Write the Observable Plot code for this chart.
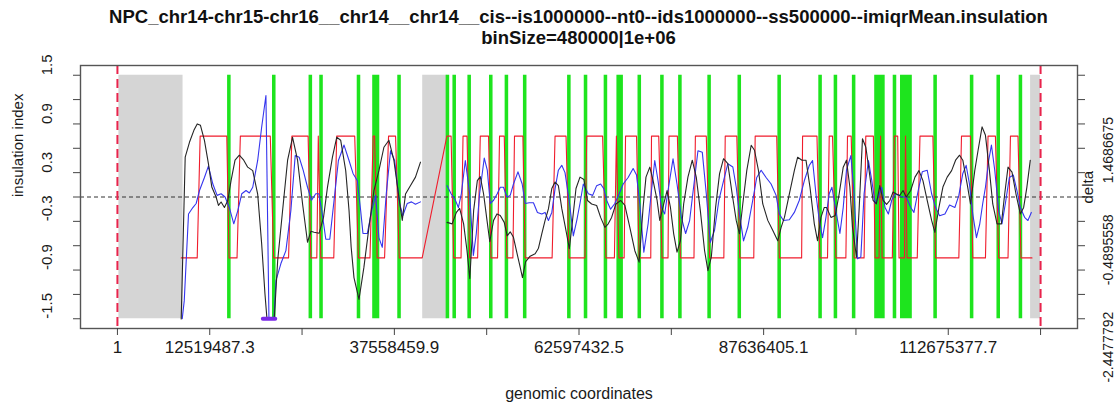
<!DOCTYPE html>
<html><head><meta charset="utf-8">
<script src="https://cdn.jsdelivr.net/npm/d3@7"></script>
<script src="https://cdn.jsdelivr.net/npm/@observablehq/plot@0.6"></script>
<style>
body{margin:0;background:#fff;width:1118px;height:407px;overflow:hidden;font-family:"Liberation Sans",Arial,Helvetica,sans-serif;}
#title{height:50px;box-sizing:border-box;padding-top:6px;padding-left:39px;width:1118px;text-align:center;font-weight:bold;font-size:18.5px;line-height:21px;color:#111;}
</style></head>
<body>
<div id="title"><div id="t1"></div><div id="t2"></div></div>
<div id="chart"></div>
<script>
// ---------- data ----------
const titleLine1 = "NPC_chr14-chr15-chr16__chr14__chr14__cis--is1000000--nt0--ids1000000--ss500000--imiqrMean.insulation";
const titleLine2 = "binSize=480000|1e+06";
const xTitle = "genomic coordinates";
const yTitleLeft = "insulation index";
const yTitleRight = "delta";

const chromStart = 1;
const chromEnd = 125194864;

const xTicks = [1, 12519487.3, 25038973.6, 37558459.9, 50077946.2, 62597432.5, 75116918.8, 87636405.1, 100155891.4, 112675377.7, 125194864];
const xTickLabels = ["1", "12519487.3", "", "37558459.9", "", "62597432.5", "", "87636405.1", "", "112675377.7", ""];

const yTicks = [-1.5, -1.2, -0.9, -0.6, -0.3, 0, 0.3, 0.6, 0.9, 1.2, 1.5];
const yTickLabels = ["-1.5", "", "-0.9", "", "-0.3", "", "0.3", "", "0.9", "", "1.5"];

const deltaMax = 2.4477792;
const deltaTicks = [-2.4477792, -1.9582234, -1.4686675, -0.9791117, -0.4895558, 0, 0.4895558, 0.9791117, 1.4686675, 1.9582234, 2.4477792];
const deltaTickLabels = ["-2.4477792", "", "", "", "-0.4895558", "", "", "", "1.4686675", "", ""];

// NA (unmappable) regions, Mb
const naStart = [0.2, 41.40, 123.84];
const naEnd   = [8.90, 44.75, 125.19];

// boundary bins (green), Mb
const boundaryStart = [14.94, 21.03, 25.99, 27.44, 32.52, 34.62, 38.02, 44.58, 45.50, 47.53, 50.46, 52.58, 55.06, 61.05, 63.31, 66.01, 67.74, 70.60, 73.67, 76.11, 80.07, 84.16, 89.57, 95.12, 97.20, 99.67, 102.70, 105.21, 106.20, 110.72, 115.67, 119.28, 122.29];
const boundaryEnd   = [15.42, 21.51, 26.47, 27.92, 33.00, 35.58, 38.50, 45.06, 45.98, 48.01, 50.94, 53.06, 55.54, 61.53, 63.79, 66.49, 68.62, 71.08, 74.15, 76.59, 80.55, 84.64, 90.05, 95.60, 97.68, 100.15, 104.12, 105.69, 107.80, 111.20, 116.15, 119.76, 122.77];

// insulation index (left axis) [Mb, value]; null = missing
const insulation = [[8.79,-1.50],[9.06,-1.28],[9.64,-0.21],[10.23,-0.13],[10.68,-0.08],[11.13,0.08],[11.80,0.24],[12.34,0.38],[12.94,0.16],[13.52,0.02],[14.06,0.04],[14.60,0.00],[15.18,-0.13],[15.78,-0.33],[16.32,-0.17],[16.86,0.04],[17.44,0.08],[17.89,0.05],[18.35,0.12],[19.02,0.45],[19.56,0.86],[20.14,1.25],[20.55,-1.50],[21.23,-1.50],[21.50,-1.03],[22.17,-0.82],[22.85,-0.66],[23.52,-0.17],[24.11,0.51],[24.65,0.49],[25.19,0.33],[25.78,0.12],[26.32,-0.04],[26.90,0.04],[27.31,0.04],[27.72,-0.17],[28.26,-0.52],[28.80,-0.52],[29.38,-0.04],[29.97,0.45],[30.73,0.64],[31.41,0.45],[31.95,0.29],[32.54,0.20],[32.99,-0.17],[33.30,-0.45],[33.89,-0.45],[34.48,-0.17],[35.02,0.02],[35.46,-0.50],[35.92,-0.62],[36.46,0.04],[37.04,0.57],[37.59,0.45],[38.26,-0.08],[38.71,-0.23],[39.30,-0.08],[39.88,-0.06],[40.42,-0.09],[41.10,-0.06],[43.00,null],
[44.71,0.14],[45.25,0.04],[45.83,-0.04],[46.24,-0.13],[46.64,0.04],[47.18,0.45],[47.77,0.04],[48.27,-0.72],[48.67,-0.45],[49.12,0.04],[49.75,0.48],[50.16,0.33],[50.56,-0.08],[51.01,-0.04],[51.51,0.04],[51.92,0.12],[52.36,0.12],[52.82,0.00],[53.27,0.02],[53.71,0.16],[54.32,0.31],[54.89,0.16],[55.30,-0.08],[55.84,-0.07],[56.42,-0.07],[56.96,-0.19],[57.55,-0.21],[58.00,-0.19],[58.45,-0.29],[58.91,-0.19],[59.35,0.10],[59.80,0.33],[60.26,0.39],[60.70,0.30],[61.29,-0.06],[61.83,-0.48],[62.29,-0.29],[62.73,-0.08],[63.18,0.16],[63.86,0.04],[64.45,0.02],[64.99,0.14],[65.53,0.16],[65.98,0.10],[66.34,-0.04],[66.88,-0.15],[67.46,-0.08],[68.05,0.04],[68.59,0.16],[69.26,0.24],[69.94,0.35],[70.40,0.27],[70.84,-0.08],[71.39,-0.68],[71.97,-0.33],[72.43,0.08],[72.87,0.45],[73.32,0.20],[73.78,-0.13],[74.22,-0.21],[74.67,0.08],[75.35,0.47],[75.89,0.16],[76.48,-0.25],[77.06,-0.45],[77.60,-0.29],[78.19,0.16],[78.73,0.57],[79.32,0.55],[79.86,0.04],[80.40,-0.56],[80.98,-0.41],[81.57,-0.04],[82.20,0.20],[82.78,0.41],[83.46,0.37],[83.92,0.12],[84.36,-0.21],[84.91,-0.54],[85.49,-0.37],[86.16,-0.04],[86.70,0.24],[87.30,0.33],[87.97,0.24],[88.65,0.16],[89.33,0.02],[89.77,-0.21],[90.32,-0.29],[91.12,-0.28],[91.80,-0.19],[92.48,-0.04],[93.15,0.20],[93.83,0.39],[94.27,0.45],[94.73,0.04],[95.18,-0.29],[95.63,-0.50],[96.09,-0.25],[96.53,0.04],[96.90,0.12],[97.44,-0.17],[97.98,-0.45],[98.43,-0.13],[98.87,0.33],[99.47,0.51],[99.91,0.04],[100.36,-0.76],[100.82,-0.74],[101.26,0.04],[101.85,0.45],[102.31,0.20],[102.75,-0.08],[103.20,0.00],[103.66,0.12],[104.10,-0.13],[104.55,-0.21],[105.01,-0.04],[105.46,0.04],[106.00,0.02],[106.44,0.00],[106.98,0.00],[107.58,-0.13],[108.02,-0.19],[108.60,0.08],[109.15,0.31],[109.82,0.33],[110.42,0.04],[110.96,-0.13],[111.50,-0.23],[112.22,-0.21],[112.85,-0.10],[113.57,-0.13],[114.11,0.02],[114.65,0.29],[115.10,0.39],[115.55,0.16],[116.00,-0.21],[116.50,-0.50],[116.95,-0.33],[117.35,-0.08],[117.72,0.12],[118.16,0.45],[118.53,0.64],[118.98,0.33],[119.52,-0.17],[119.96,-0.33],[120.42,-0.08],[120.96,0.24],[121.50,0.27],[121.99,0.08],[122.45,-0.13],[123.03,-0.25],[123.48,-0.29],[123.94,-0.19]];

// delta (right axis) [Mb, value]; null = missing
const delta = [[8.65,-2.45],[9.19,0.80],[9.77,1.10],[10.37,1.34],[10.82,1.47],[11.26,1.44],[11.80,1.14],[12.34,0.67],[12.80,0.20],[13.38,0.00],[13.70,-0.17],[14.06,-0.10],[14.51,-0.21],[14.97,-0.07],[15.41,0.33],[15.95,0.74],[16.53,0.84],[17.13,0.74],[17.67,0.60],[18.35,0.53],[19.02,0.06],[19.56,-0.94],[20.01,-1.95],[20.28,-2.45],[21.27,-2.45],[21.73,-1.28],[22.40,-0.27],[23.08,0.74],[23.75,1.20],[24.43,0.74],[25.11,-0.14],[25.78,-0.91],[26.23,-0.69],[26.67,-0.71],[27.35,-0.73],[27.95,-0.41],[28.49,0.20],[29.16,0.80],[29.74,1.20],[30.28,1.14],[30.96,0.53],[31.41,-0.27],[31.70,-1.01],[32.08,-1.62],[32.76,-2.06],[33.43,-1.41],[34.11,-0.61],[34.79,0.13],[35.46,0.53],[36.14,1.00],[36.82,1.14],[37.49,0.74],[38.17,0.00],[38.63,-0.47],[39.07,0.06],[39.75,0.23],[40.42,0.40],[41.10,0.70],[43.00,null],
[44.71,-0.51],[45.39,-0.54],[45.97,-0.31],[46.41,-0.23],[46.95,-0.54],[47.41,-1.08],[47.79,-1.64],[48.31,-0.27],[48.81,0.33],[49.21,0.41],[49.66,0.06],[50.12,-0.47],[50.50,-0.90],[51.01,-0.47],[51.47,-0.34],[51.92,-0.37],[52.46,-0.51],[52.86,-0.78],[53.27,-0.70],[53.71,-0.81],[54.17,-1.12],[54.62,-1.41],[54.93,-1.62],[55.36,-1.30],[55.97,-1.19],[56.65,-1.14],[57.10,-1.03],[57.55,-0.74],[58.00,-0.47],[58.45,-0.24],[58.91,0.17],[59.35,0.30],[59.80,0.23],[60.26,-0.23],[60.70,-0.57],[61.29,-1.04],[61.75,-0.43],[62.19,0.17],[62.73,0.40],[63.27,0.35],[63.75,-0.07],[64.31,-0.14],[64.99,-0.17],[65.53,-0.41],[66.11,-0.61],[66.56,-0.54],[67.02,-0.41],[67.60,-0.14],[68.24,-0.07],[68.82,-0.17],[69.49,-0.61],[70.17,-1.08],[70.75,-1.31],[71.29,-0.21],[71.68,0.40],[72.20,0.60],[72.65,0.33],[73.19,-0.07],[73.55,-0.47],[74.09,-0.14],[74.54,0.13],[75.00,-0.21],[75.44,-0.74],[75.89,-1.11],[76.35,-0.88],[76.79,-0.14],[77.37,0.40],[77.96,0.74],[78.50,0.40],[79.05,-0.27],[79.63,-1.08],[80.08,-1.48],[80.54,-1.21],[81.12,-0.21],[81.66,0.47],[82.20,0.77],[82.78,0.67],[83.37,0.06],[83.92,-0.47],[84.36,-0.74],[84.81,-0.14],[85.35,0.53],[85.95,1.04],[86.40,0.94],[86.94,0.53],[87.52,-0.14],[88.20,-0.47],[88.87,-0.67],[89.55,-0.88],[90.01,-0.61],[90.46,-0.41],[91.12,0.06],[91.80,0.53],[92.25,0.80],[92.84,0.74],[93.38,0.74],[93.92,0.20],[94.51,-0.54],[94.95,-0.88],[95.41,-0.41],[95.86,-0.21],[96.17,-0.21],[96.77,-0.41],[97.35,-0.37],[97.88,0.06],[98.43,0.60],[98.87,0.74],[99.33,0.20],[99.69,-0.61],[100.23,-1.21],[100.60,-0.21],[101.04,1.17],[101.50,1.00],[101.94,0.53],[102.48,-0.07],[102.93,-0.14],[103.39,0.23],[103.84,-0.07],[104.31,-0.15],[104.75,-0.07],[105.19,0.10],[105.64,0.06],[106.09,0.03],[106.54,0.13],[106.98,0.00],[107.58,0.13],[108.16,0.40],[108.70,0.53],[109.24,0.33],[109.82,-0.07],[110.42,-0.47],[110.86,-0.71],[111.41,-0.21],[111.95,0.20],[112.53,0.40],[113.13,0.53],[113.67,0.74],[114.21,0.84],[114.65,0.74],[115.23,0.27],[115.69,-0.14],[116.27,0.53],[116.72,0.94],[117.26,1.41],[117.72,1.24],[118.26,0.53],[118.71,-0.14],[119.29,-0.54],[119.88,-0.54],[120.33,0.06],[120.78,0.60],[121.32,0.50],[121.86,0.06],[122.45,-0.34],[122.90,-0.21],[123.34,0.20],[123.80,0.74]];

// boundary call track (red) [Mb, level]
const boundaryCall = [[8.65,-0.75],[10.82,-0.75],[11.22,0.75],[14.83,0.75],[15.14,-0.75],[16.22,-0.75],[16.67,0.75],[20.73,0.75],[21.19,-0.75],[23.21,-0.75],[23.66,0.75],[25.86,0.75],[26.23,-0.75],[27.04,-0.75],[27.24,0.75],[27.58,-0.75],[29.34,-0.75],[29.74,0.75],[32.18,0.75],[32.68,-0.75],[34.25,-0.75],[34.68,0.75],[34.88,0.75],[35.22,-0.75],[36.23,-0.75],[36.77,0.75],[37.72,0.75],[38.22,-0.75],[41.33,-0.75],[44.68,0.75],[45.25,0.75],[45.60,-0.75],[46.60,-0.75],[46.87,0.75],[47.41,0.75],[47.77,-0.75],[48.85,-0.75],[49.21,0.75],[50.33,0.75],[50.66,-0.75],[51.55,-0.75],[51.82,0.75],[52.46,0.75],[52.82,-0.75],[53.63,-0.75],[53.85,0.75],[54.99,0.75],[55.30,-0.75],[58.95,-0.75],[59.35,0.75],[60.84,0.75],[61.25,-0.75],[63.41,-0.75],[63.64,0.75],[65.80,0.75],[66.25,-0.75],[67.40,-0.75],[67.67,0.75],[68.01,-0.75],[68.72,-0.75],[68.91,0.75],[70.40,0.75],[70.75,-0.75],[72.33,-0.75],[72.43,0.75],[73.41,0.75],[73.86,-0.75],[74.67,-0.75],[74.80,0.75],[75.94,0.75],[76.35,-0.75],[78.19,-0.75],[78.38,0.75],[79.86,0.75],[80.31,-0.75],[82.24,-0.75],[82.43,0.75],[84.00,0.75],[84.41,-0.75],[86.30,-0.75],[86.49,0.75],[89.41,0.75],[89.77,-0.75],[92.79,-0.75],[92.92,0.75],[94.87,0.75],[95.27,-0.75],[96.30,-0.75],[96.53,0.75],[96.98,0.75],[97.44,-0.75],[98.79,-0.75],[99.01,0.75],[99.51,0.75],[99.91,-0.75],[101.26,-0.75],[101.49,0.75],[102.52,0.75],[102.75,-0.75],[103.29,-0.75],[103.50,0.75],[103.70,-0.75],[105.09,-0.75],[105.36,0.75],[105.82,0.75],[106.00,-0.75],[106.74,-0.75],[106.88,0.75],[107.08,-0.75],[108.47,-0.75],[108.84,0.75],[110.59,0.75],[110.96,-0.75],[114.11,-0.75],[114.47,0.75],[115.69,0.75],[116.00,-0.75],[117.72,-0.75],[118.07,0.75],[119.07,0.75],[119.52,-0.75],[120.78,-0.75],[121.11,0.75],[122.13,0.75],[122.54,-0.75],[124.03,-0.75]];

// clipped (off-scale) insulation bins, Mb
const clippedMb = [19.72, 21.40];
const clippedValue = -1.5;

// ---------- chart ----------
document.getElementById("t1").textContent = titleLine1;
document.getElementById("t2").textContent = titleLine2;

const MB = 1e6;
const span = chromEnd - chromStart;
const xDomain = [chromStart - 0.04 * span, chromEnd + 0.04 * span];
const yMin = yTicks[0], yMax = yTicks[yTicks.length - 1];
const yPad = 0.04 * (yMax - yMin);
const dScale = yMax / deltaMax;

const naRegions = naStart.map((s, i) => ({s: s * MB, e: naEnd[i] * MB}));
const boundaries = boundaryStart.map((s, i) => ({s: s * MB, e: boundaryEnd[i] * MB}));
const insData = insulation.map(([p, v]) => ({x: p * MB, y: v}));
const deltaData = delta.map(([p, v]) => ({x: p * MB, y: v == null ? null : v * dScale}));
const callData = boundaryCall.map(([p, v]) => ({x: p * MB, y: v}));
const clipData = clippedMb.map(p => ({x: p * MB, y: clippedValue}));

const xLab = xTicks.map((t, i) => ({t, l: xTickLabels[i]})).filter(d => d.l);
const yLab = yTicks.map((t, i) => ({t, l: yTickLabels[i]})).filter(d => d.l);
const dLab = deltaTicks.map((t, i) => ({t: t * dScale, l: deltaTickLabels[i]})).filter(d => d.l);

const FONT = "'Liberation Sans', Arial, Helvetica, sans-serif";
const ink = "#1a1a1a";

const chart = Plot.plot({
  width: 1118,
  height: 357,
  marginTop: 15,
  marginBottom: 79,
  marginLeft: 80,
  marginRight: 41,
  x: {domain: xDomain, axis: null},
  y: {domain: [yMin - yPad, yMax + yPad], axis: null},
  style: {fontFamily: FONT, fontSize: "14px", color: ink, background: "#fff", overflow: "visible"},
  marks: [
    Plot.rect(naRegions, {x1: "s", x2: "e", y1: yMin, y2: yMax, fill: "#d5d5d5"}),
    Plot.rect(boundaries, {x1: "s", x2: "e", y1: yMin, y2: yMax, fill: "#1ee41e"}),
    Plot.ruleY([0], {stroke: "#333", strokeWidth: 1, strokeDasharray: "4,3"}),
    Plot.line(callData, {x: "x", y: "y", stroke: "#f01c2c", strokeWidth: 1.1}),
    Plot.line(insData, {x: "x", y: "y", stroke: "#3535ee", strokeWidth: 1.1}),
    Plot.line(deltaData, {x: "x", y: "y", stroke: "#262626", strokeWidth: 1.1}),
    Plot.line(clipData, {x: "x", y: "y", stroke: "#7a28e8", strokeWidth: 4, strokeLinecap: "round"}),
    Plot.ruleX([chromStart, chromEnd], {stroke: "#e8234c", strokeWidth: 2, strokeDasharray: "9,5"}),
    Plot.frame({stroke: "#555", strokeWidth: 1.4}),
    Plot.axisX({ticks: xTicks, tickSize: 7, tickFormat: () => "", stroke: "#444"}),
    Plot.axisY({ticks: yTicks, anchor: "left", tickSize: 7, tickFormat: () => "", stroke: "#444"}),
    Plot.axisY({ticks: deltaTicks.map(t => t * dScale), anchor: "right", tickSize: 7, tickFormat: () => "", stroke: "#444"}),
    Plot.text(xLab, {x: "t", text: "l", frameAnchor: "bottom", dy: 24, fontSize: 17, fill: ink}),
    Plot.text(yLab, {y: "t", text: "l", frameAnchor: "left", dx: -33, rotate: -90, fontSize: 15, fill: ink}),
    Plot.text(dLab, {y: "t", text: "l", frameAnchor: "right", dx: 31, dy: -7, rotate: -90, fontSize: 14, fill: ink}),
    Plot.text([xTitle], {text: d => d, frameAnchor: "bottom", dy: 70, fontSize: 16, fill: ink}),
    Plot.text([yTitleLeft], {text: d => d, frameAnchor: "left", dx: -62, rotate: -90, fontSize: 15, fill: ink}),
    Plot.text([yTitleRight], {text: d => d, frameAnchor: "right", dx: 11, dy: -26, rotate: -90, fontSize: 15, fill: ink})
  ]
});
document.getElementById("chart").appendChild(chart);
</script>
</body></html>
